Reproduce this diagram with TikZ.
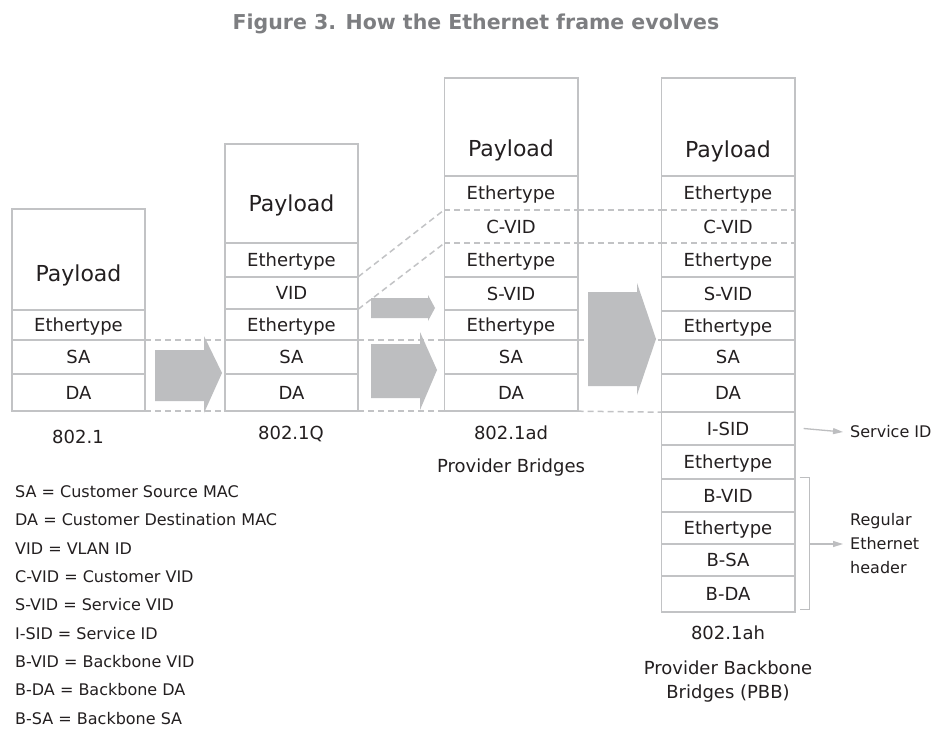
\documentclass[tikz,border=0pt]{standalone}
\usepackage{fontspec}
\setmainfont{DejaVu Sans}
\usetikzlibrary{arrows.meta}
\definecolor{ink}{HTML}{231F20}
\definecolor{rule}{HTML}{C2C3C5}
\definecolor{block}{HTML}{BDBEC0}
\definecolor{heading}{HTML}{7D7E81}
\newcommand\cellfont{\fontsize{18}{21}\selectfont}
\newcommand\payloadfont{\fontsize{22}{26}\selectfont}
\newcommand\notefont{\fontsize{16}{19}\selectfont}
\newcommand\stackfont{\fontsize{16}{24}\selectfont}
\begin{document}
\begin{tikzpicture}[x=1pt,y=-1pt,
  cell/.style={inner sep=0pt, minimum width=133pt, text=ink, font=\cellfont,
    text height=13.1pt, text depth=0pt},
  payload/.style={inner sep=0pt, text=ink, font=\payloadfont, text height=16pt, text depth=0pt},
  frame/.style={draw=rule, line width=1.6pt},
  guide/.style={draw=rule, line width=1.5pt, dash pattern=on 6pt off 4pt},
  blockarrow/.style={fill=block, draw=none},
  caption/.style={inner sep=0pt, text=ink, font=\cellfont, text height=13.1pt, text depth=0pt},
  note/.style={inner sep=0pt, text=ink, font=\notefont, text height=11.7pt, text depth=0pt, anchor=west},
  stacknote/.style={inner sep=0pt, text=ink, font=\stackfont, align=left, anchor=west},
  pointer/.style={draw=block, line width=1.3pt, -{Triangle[length=10pt,width=6pt]}}
]
\useasboundingbox (0,0) rectangle (945,731);
\fill[white] (0,0) rectangle (945,731);

% heading
\node[inner sep=0pt, text=heading, font=\bfseries\fontsize{20.5}{24}\selectfont,
  text height=15pt, text depth=0pt] (title) at (476,22) {Figure 3. How the Ethernet frame evolves};

% 802.1 frame (payload cell holds no text; its label sits low in the cell)
\foreach \i/\t/\b/\s in {1/209/310/{}, 2/310/340/Ethertype, 3/340/374/SA, 4/374/411/DA}
  \node[cell, minimum height={(\b-\t)*1pt}] (a\i) at (78.5,{(\t+\b)/2}) {\s};
\node[payload] (pa) at (78.5,273) {Payload};
\draw[frame] (a1.north west) rectangle (a4.south east);
\foreach \i in {1,...,3} \draw[frame] (a\i.south west) -- (a\i.south east);

% 802.1Q frame
\foreach \i/\t/\b/\s in {1/144/243/{}, 2/243/277/Ethertype, 3/277/309/VID,
    4/309/340/Ethertype, 5/340/374/SA, 6/374/411/DA}
  \node[cell, minimum height={(\b-\t)*1pt}] (b\i) at (291.5,{(\t+\b)/2}) {\s};
\node[payload] (pb) at (291.5,203.5) {Payload};
\draw[frame] (b1.north west) rectangle (b6.south east);
\foreach \i in {1,...,5} \draw[frame] (b\i.south west) -- (b\i.south east);

% 802.1ad frame
\foreach \i/\t/\b/\s in {1/78/176/{}, 2/176/210/Ethertype, 3/210/243/C-VID,
    4/243/277/Ethertype, 5/277/310/S-VID, 6/310/340/Ethertype, 7/340/374/SA, 8/374/411/DA}
  \node[cell, minimum height={(\b-\t)*1pt}] (c\i) at (511,{(\t+\b)/2}) {\s};
\node[payload] (pc) at (511,148) {Payload};
\draw[frame] (c1.north west) rectangle (c8.south east);
\foreach \i in {1,4,5,6,7} \draw[frame] (c\i.south west) -- (c\i.south east);
\foreach \i in {2,3} \draw[guide] (c\i.south west) -- (c\i.south east);

% 802.1ah frame
\foreach \i/\t/\b/\s in {1/78/176/{}, 2/176/210/Ethertype, 3/210/243/C-VID,
    4/243/277/Ethertype, 5/277/311/S-VID, 6/311/340/Ethertype, 7/340/374/SA, 8/374/412/DA,
    9/412/445/I-SID, 10/445/479/Ethertype, 11/479/512/B-VID, 12/512/544/Ethertype,
    13/544/576/B-SA, 14/576/612/B-DA}
  \node[cell, minimum height={(\b-\t)*1pt}] (d\i) at (728,{(\t+\b)/2}) {\s};
\node[payload] (pd) at (728,149) {Payload};
\draw[frame] (d1.north west) rectangle (d14.south east);
\foreach \i in {1,4,5,...,13} \draw[frame] (d\i.south west) -- (d\i.south east);
\foreach \i in {2,3} \draw[guide] (d\i.south west) -- (d\i.south east);

% guides linking the frames
\draw[guide] (a3.north east) -- (b5.north west);
\draw[guide] (a4.south east) -- (b6.south west);
\draw[guide] (b5.north east) -- (c7.north west);
\draw[guide] (b6.south east) -- (c8.south west);
\draw[guide] (b3.north east) -- (c3.north west);
\draw[guide] (b3.south east) -- (c3.south west);
\draw[guide] (c3.north east) -- (d3.north west);
\draw[guide] (c3.south east) -- (d3.south west);
\draw[guide] (c7.north east) -- (d7.north west);
\draw[guide] (c8.south east) -- (d8.south west);

% block arrows
\path[blockarrow] (155,350) -- (204,350) -- (204,336) -- (222,373) -- (204,413) -- (204,401) -- (155,401) -- cycle;
\path[blockarrow] (371,298) -- (428,298) -- (428,295) -- (435,308) -- (428,321) -- (428,318) -- (371,318) -- cycle;
\path[blockarrow] (371,344) -- (420,344) -- (420,332) -- (437,370) -- (420,410) -- (420,398) -- (371,398) -- cycle;
\path[blockarrow] (588,292) -- (637,292) -- (637,283) -- (656,339) -- (637,395) -- (637,386) -- (588,386) -- cycle;

% frame captions
\node[caption] (capA) at (78,437) {802.1};
\node[caption] (capB) at (291,433) {802.1Q};
\node[caption] (capC) at (511,433) {802.1ad};
\node[caption] (capC2) at (511,466) {Provider Bridges};
\node[caption] (capD) at (728,633) {802.1ah};
\node[caption] (capD2) at (728,668) {Provider Backbone};
\node[caption] (capD3) at (728,692) {Bridges (PBB)};

% side notes
\node[note] (sid) at (850,432) {Service ID};
\draw[pointer] ([xshift=9pt]d9.east) -- ([xshift=-7pt]sid.west);
\node[stacknote] (reg) at (850,544) {Regular\\Ethernet\\header};
\coordinate (brtop) at ([xshift=15pt,yshift=1pt]d11.north east);
\coordinate (brbot) at ([xshift=15pt,yshift=3pt]d14.south east);
\draw[draw=block, line width=1.2pt] ([xshift=-10pt]brtop) -- (brtop) -- (brbot) -- ([xshift=-10pt]brbot);
\draw[pointer] (brtop |- reg.west) -- ([xshift=-7pt]reg.west);

% abbreviations
\foreach \k/\y/\s in {1/492/SA = Customer Source MAC, 2/520/DA = Customer Destination MAC,
    3/549/VID = VLAN ID, 4/577/C-VID = Customer VID, 5/605/S-VID = Service VID,
    6/634/I-SID = Service ID, 7/662/B-VID = Backbone VID, 8/690/B-DA = Backbone DA,
    9/719/B-SA = Backbone SA}
  \node[note] (leg\k) at (15,\y) {\s};
\end{tikzpicture}
\end{document}
